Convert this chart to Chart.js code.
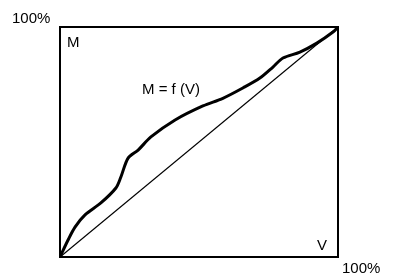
<!DOCTYPE html>
<html>
<head>
<meta charset="utf-8">
<script src="https://cdn.jsdelivr.net/npm/chart.js@4"></script>
<style>
  html, body { margin: 0; padding: 0; background: #fff; }
  #mvChart { display: block; }
</style>
</head>
<body>
<canvas id="mvChart" width="400" height="278"></canvas>
<script>
// V (% of volume) and M (% of mass) along the curve M = f(V)
const vValues = [0, 2.9, 5.4, 9.0, 14.7, 20.1, 21.9, 24.5, 28.1, 32.7, 41.4, 51.4, 58.6, 65.8, 71.9, 76.6, 80.2, 86.3, 92.4, 98.2, 100];
const mValues = [0, 7.4, 13.0, 18.3, 23.5, 30.0, 34.8, 43.0, 46.5, 52.2, 59.6, 65.7, 69.0, 73.5, 77.8, 82.6, 86.5, 89.1, 93.0, 97.8, 100];
// the straight diagonal
const diagV = [0, 100];
const diagM = [0, 100];

const labelFont = '15px "Liberation Sans", Arial, sans-serif';

// box around the plot plus the loose labels
const frameAndLabels = {
  id: 'frameAndLabels',
  afterDraw(chart) {
    const { ctx, chartArea: a } = chart;
    ctx.save();
    ctx.strokeStyle = '#000';
    ctx.lineWidth = 2;
    ctx.strokeRect(a.left, a.top, a.right - a.left, a.bottom - a.top);

    ctx.fillStyle = '#000';
    ctx.font = labelFont;
    ctx.textBaseline = 'alphabetic';
    ctx.textAlign = 'left';
    ctx.fillText('100%', 12, a.top - 4);
    ctx.fillText('M', a.left + 7, a.top + 20);
    ctx.fillText('M = f (V)', 142, 94);
    ctx.fillText('V', a.right - 21, a.bottom - 7);
    ctx.fillText('100%', a.right + 4, a.bottom + 16);
    ctx.restore();
  }
};

const ctxMV = document.getElementById('mvChart').getContext('2d');
const mvChart = new Chart(ctxMV, {
  type: 'scatter',
  data: {
    datasets: [
      {
        data: vValues.map((v, i) => ({ x: v, y: mValues[i] })),
        showLine: true,
        borderColor: '#000',
        borderWidth: 3,
        pointRadius: 0,
        tension: 0.3
      },
      {
        data: diagV.map((v, i) => ({ x: v, y: diagM[i] })),
        showLine: true,
        borderColor: '#000',
        borderWidth: 1.3,
        pointRadius: 0
      }
    ]
  },
  options: {
    responsive: false,
    animation: false,
    layout: { padding: { left: 60, top: 27, right: 62, bottom: 21 } },
    plugins: {
      legend: { display: false },
      tooltip: { enabled: false }
    },
    scales: {
      x: { min: 0, max: 100, display: false },
      y: { min: 0, max: 100, display: false }
    }
  },
  plugins: [frameAndLabels]
});
</script>
</body>
</html>
